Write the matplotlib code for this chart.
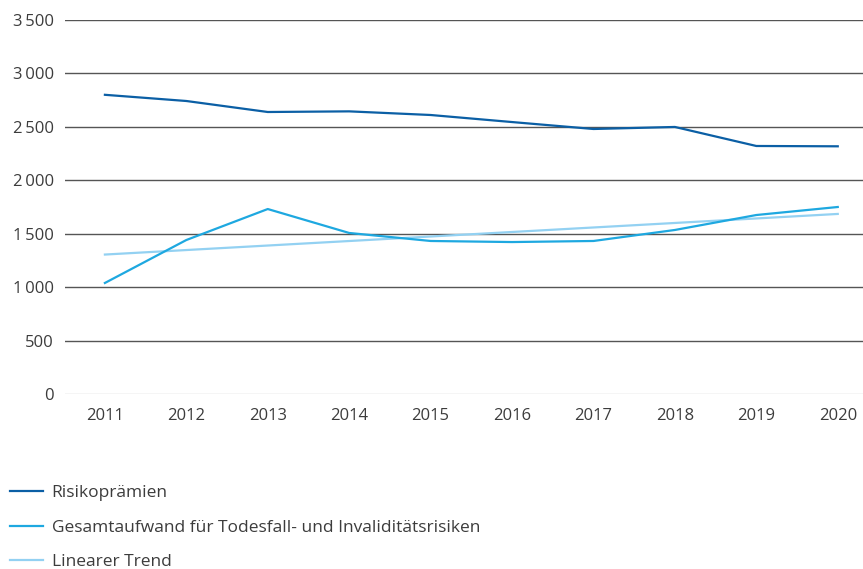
import numpy as np
import matplotlib
matplotlib.use('Agg')
import matplotlib.pyplot as plt
from matplotlib.ticker import FuncFormatter

plt.rcParams['font.family'] = ['Open Sans', 'DejaVu Sans']

years = [2011, 2012, 2013, 2014, 2015, 2016, 2017, 2018, 2019, 2020]
risikopraemien = [2800, 2742, 2639, 2645, 2611, 2545, 2480, 2499, 2321, 2318]
gesamtaufwand = [1039, 1441, 1731, 1507, 1432, 1422, 1432, 1535, 1675, 1750]
trend_years = [2011, 2020]
trend_values = [1305, 1685]

c_dark = '#0b5fa5'
c_mid = '#1ea8e0'
c_light = '#93d1f2'
c_text = '#3c3c3c'

fig = plt.figure(figsize=(8.63, 5.69), dpi=100)
ax = fig.add_axes([65/863, 1 - 394/569, 798/863, 374/569])

yticks = np.arange(0, 3501, 500)
for v in yticks:
    ax.axhline(v, color='#d0d0d0' if v == 0 else '#555555', lw=1.0, zorder=1)

ax.plot(years, risikopraemien, color=c_dark, lw=1.6, label='Risikoprämien', zorder=3)
ax.plot(years, gesamtaufwand, color=c_mid, lw=1.6,
        label='Gesamtaufwand für Todesfall- und Invaliditätsrisiken', zorder=3)
ax.plot(trend_years, trend_values, color=c_light, lw=1.6, label='Linearer Trend', zorder=2)

ax.set_xlim(2010.51, 2020.31)
ax.set_ylim(0, 3500)
ax.set_xticks(years)
ax.set_yticks(yticks)
ax.yaxis.set_major_formatter(FuncFormatter(lambda v, p: f'{int(v):,}'.replace(',', '\u2009')))
ax.tick_params(length=0, labelsize=12, colors=c_text, pad=8)
ax.tick_params(axis='x', pad=10)
for s in ax.spines.values():
    s.set_visible(False)

fig.legend(loc='upper left', bbox_to_anchor=(10/863, 1 - 485/569), frameon=False,
           fontsize=12.5, handlelength=1.9, handletextpad=0.5, labelspacing=1.06,
           labelcolor=c_text, borderaxespad=0.0, borderpad=0.0)

fig.savefig('out.png', dpi=100)
